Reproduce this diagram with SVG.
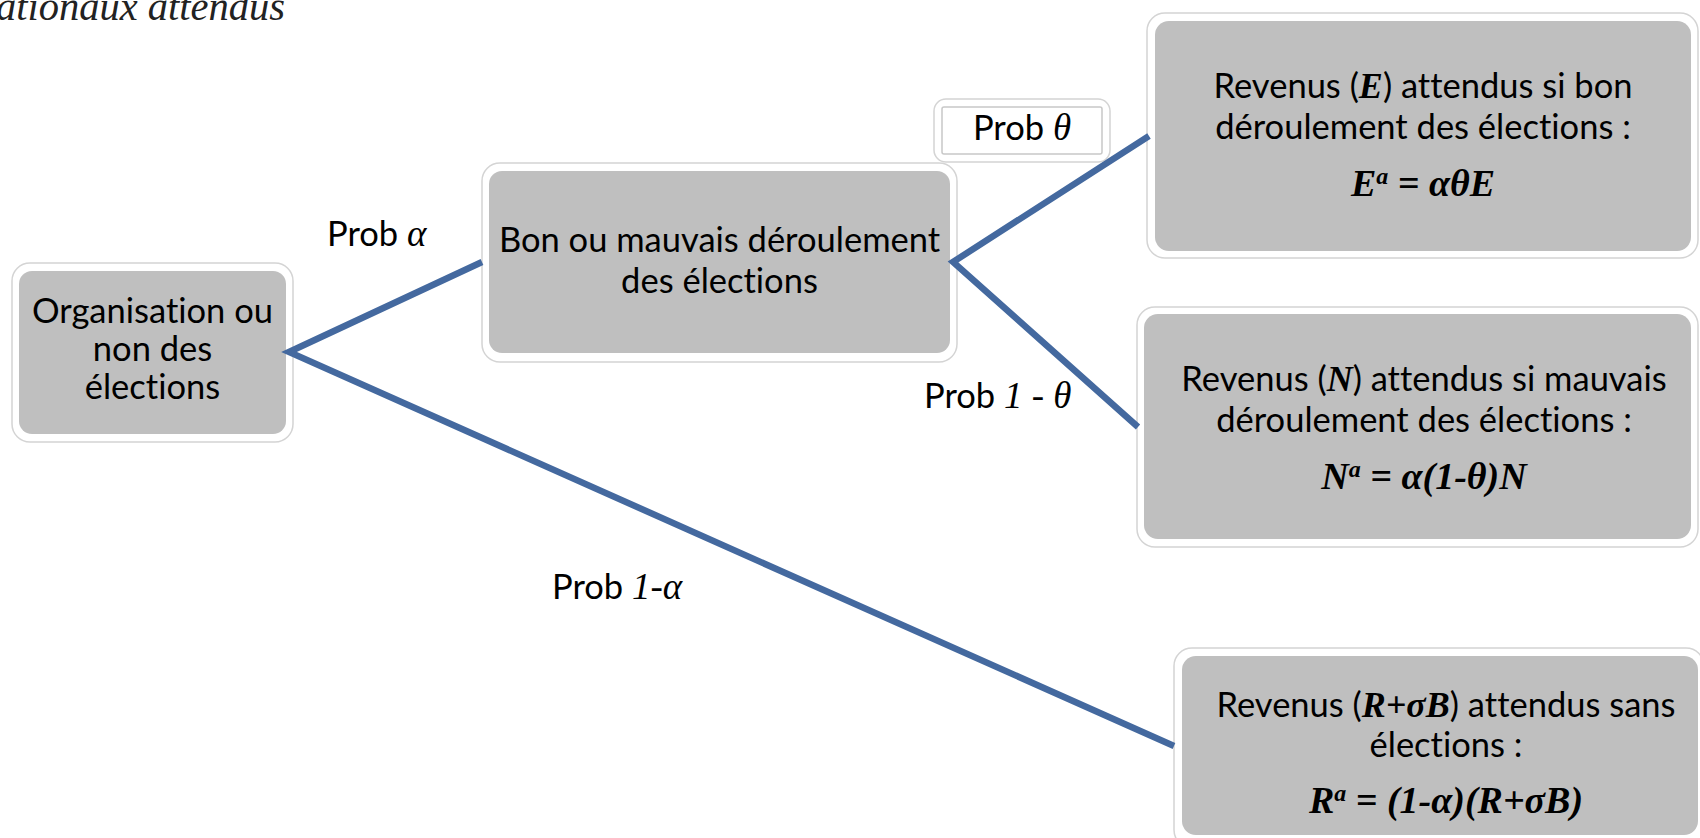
<svg xmlns="http://www.w3.org/2000/svg" width="1700" height="838" viewBox="0 0 1700 838">
<style>
.frame{fill:#fff;stroke:#d4d4d4;stroke-width:1.5}
.box{fill:#bfbfbf}
.t{font-family:Lato,"Open Sans",sans-serif;font-size:34.5px;fill:#000;text-anchor:middle;font-variant-ligatures:none;font-feature-settings:"liga" 0,"clig" 0}
.m{font-family:"Liberation Serif","Times New Roman",serif;font-style:italic;font-weight:bold;font-size:36px}
.mi{font-family:"Liberation Serif","Times New Roman",serif;font-style:italic;font-size:37px}
.f{font-family:"Liberation Serif","Times New Roman",serif;font-style:italic;font-weight:bold;font-size:38px;fill:#000;text-anchor:middle}
.sup{font-size:24px}
.conn{stroke:#44699f;stroke-width:6.5;fill:none;stroke-linejoin:miter;stroke-miterlimit:10}
.lbl{font-family:Lato,"Open Sans",sans-serif;font-size:34.5px;fill:#000;font-variant-ligatures:none}
</style>
<rect width="1700" height="838" fill="#fff"/>
<text x="-4" y="20" font-family="Liberation Serif, Times New Roman, serif" font-style="italic" font-size="40.5" fill="#222">ationaux attendus</text>

<g id="node-organisation">
<rect class="frame" x="12" y="263" width="281" height="179" rx="18"/>
<rect class="box" x="19" y="271" width="267" height="163" rx="13"/>
<text class="t" x="152.5" y="323">Organisation ou</text>
<text class="t" x="152.5" y="361">non des</text>
<text class="t" x="152.5" y="399">élections</text>
</g>

<g id="node-deroulement">
<rect class="frame" x="482" y="163" width="475" height="199" rx="18"/>
<rect class="box" x="489" y="171" width="461" height="182" rx="13"/>
<text class="t" x="719.5" y="252">Bon ou mauvais déroulement</text>
<text class="t" x="719.5" y="293">des élections</text>
</g>

<g id="node-prob-theta">
<rect class="frame" x="934" y="99" width="176" height="63" rx="12"/>
<rect x="942" y="107" width="160" height="47" rx="2" fill="#fff" stroke="#c8c8c8" stroke-width="1.5"/>
<text class="lbl" x="1022" y="140" text-anchor="middle">Prob <tspan class="mi">θ</tspan></text>
</g>

<g id="node-E">
<rect class="frame" x="1147" y="13" width="551" height="245" rx="18"/>
<rect class="box" x="1155" y="21" width="536" height="230" rx="14"/>
<text class="t" x="1423" y="98">Revenus (<tspan class="m">E</tspan>) attendus si bon</text>
<text class="t" x="1423" y="139">déroulement des élections :</text>
<text class="f" x="1423" y="196">E<tspan class="sup" dy="-12">a</tspan><tspan dy="12"> = αθE</tspan></text>
</g>

<g id="node-N">
<rect class="frame" x="1137" y="307" width="561" height="240" rx="18"/>
<rect class="box" x="1144" y="314" width="547" height="225" rx="14"/>
<text class="t" x="1424" y="391">Revenus (<tspan class="m">N</tspan>) attendus si mauvais</text>
<text class="t" x="1424" y="432">déroulement des élections :</text>
<text class="f" x="1424" y="489">N<tspan class="sup" dy="-12">a</tspan><tspan dy="12"> = α(1-θ)N</tspan></text>
</g>

<g id="node-R">
<rect class="frame" x="1174" y="648" width="530" height="200" rx="18"/>
<rect class="box" x="1182" y="656" width="516" height="179" rx="14"/>
<text class="t" x="1446" y="717">Revenus (<tspan class="m">R+σB</tspan>) attendus sans</text>
<text class="t" x="1446" y="757">élections :</text>
<text class="f" x="1446" y="813">R<tspan class="sup" dy="-12">a</tspan><tspan dy="12"> = (1-α)(R+σB)</tspan></text>
</g>

<g id="connectors">
<polyline class="conn" points="482,262 289,352 1174,746"/>
<polyline class="conn" points="1149,136 953,262 1138,427"/>
</g>

<g id="labels">
<text class="lbl" x="327" y="246">Prob <tspan class="mi">α</tspan></text>
<text class="lbl" x="924" y="408">Prob <tspan class="mi">1 - θ</tspan></text>
<text class="lbl" x="552" y="599">Prob <tspan class="mi">1-α</tspan></text>
</g>
</svg>
